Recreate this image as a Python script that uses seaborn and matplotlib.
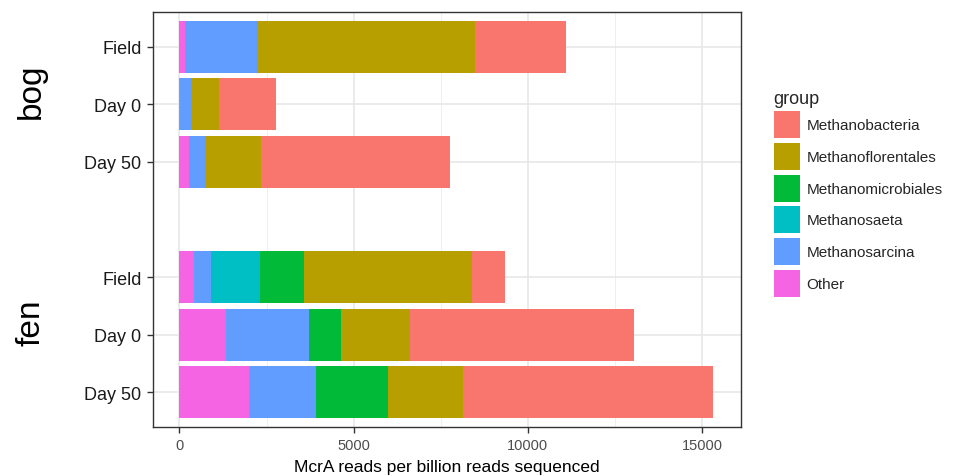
import matplotlib
matplotlib.use("Agg")
import matplotlib.pyplot as plt
import matplotlib.patches as mpatches
from matplotlib.transforms import blended_transform_factory
from matplotlib.ticker import MultipleLocator
import seaborn as sns
import pandas as pd

# data (McrA reads per billion reads sequenced)
sites = ["bog", "bog", "bog", "fen", "fen", "fen"]
samples = ["Field", "Day 0", "Day 50", "Field", "Day 0", "Day 50"]
other = [150, 30, 270, 430, 1340, 2010]
methanosarcina = [2090, 300, 460, 480, 2380, 1920]
methanosaeta = [0, 0, 0, 1390, 0, 0]
methanomicrobiales = [0, 0, 0, 1280, 910, 2060]
methanoflorentales = [6230, 800, 1620, 4810, 2000, 2160]
methanobacteria = [2630, 1640, 5420, 940, 6400, 7170]

groups = ["Methanobacteria", "Methanoflorentales", "Methanomicrobiales",
          "Methanosaeta", "Methanosarcina", "Other"]
colors = ["#F8766D", "#B79F00", "#00BA38", "#00BFC4", "#619CFF", "#F564E3"]

df = pd.DataFrame({
    "site": sites,
    "sample": samples,
    "Other": other,
    "Methanosarcina": methanosarcina,
    "Methanosaeta": methanosaeta,
    "Methanomicrobiales": methanomicrobiales,
    "Methanoflorentales": methanoflorentales,
    "Methanobacteria": methanobacteria,
})
df["key"] = df["site"] + " " + df["sample"]
order = list(df["key"][:3]) + ["gap"] + list(df["key"][3:])

# stacking left -> right is the reverse of legend order
stack = groups[::-1]
cum = df[stack].cumsum(axis=1)

sns.set_theme(style="white")
plt.rcParams["font.family"] = ["Liberation Sans", "DejaVu Sans"]

fig = plt.figure(figsize=(9.54, 4.77), dpi=100)
ax = fig.add_axes([0.160, 0.1027, 0.617, 0.870])

# draw widest cumulative first, then overlay shorter ones
for g in stack[::-1]:
    tmp = pd.DataFrame({"key": df["key"], "value": cum[g]})
    sns.barplot(data=tmp, x="value", y="key", order=order, orient="h",
                color=colors[groups.index(g)], saturation=1, width=0.9,
                errorbar=None, linewidth=0, ax=ax, zorder=3)

ax.set_xlim(-768, 16122)
ax.set_ylim(6.6, -0.6)
ax.xaxis.set_major_locator(MultipleLocator(5000))
ax.xaxis.set_minor_locator(MultipleLocator(2500))
ax.grid(which="major", axis="both", color="#e6e6e6", linewidth=1.1, zorder=0)
ax.grid(which="minor", axis="x", color="#efefef", linewidth=0.7, zorder=0)
ax.set_axisbelow(True)

ypos = [0, 1, 2, 4, 5, 6]
ax.set_yticks(ypos)
ax.set_yticklabels(samples, fontsize=13, color="#1a1a1a")
ax.tick_params(axis="y", which="major", length=4, width=1, color="#333333",
               left=True, pad=4)
ax.tick_params(axis="x", which="major", length=4, width=1, color="#333333",
               bottom=True, labelsize=10.5, labelcolor="#4d4d4d", pad=4)
ax.tick_params(axis="x", which="minor", length=0)
ax.set_xlabel("McrA reads per billion reads sequenced", fontsize=12.5,
              color="black", labelpad=5)
ax.set_ylabel("")

for s in ax.spines.values():
    s.set_color("#333333")
    s.set_linewidth(1)

# facet labels
trans = blended_transform_factory(fig.transFigure, ax.transData)
for label, y in [("bog", 0.75), ("fen", 4.78)]:
    ax.text(0.033, y, label, transform=trans, rotation=90, fontsize=24,
            ha="center", va="center", color="black")

handles = [mpatches.Patch(facecolor=c, edgecolor="none", label=g)
           for g, c in zip(groups, colors)]
leg = fig.legend(handles=handles, title="group", loc="upper left",
                 bbox_to_anchor=(0.803, 0.826), frameon=False,
                 fontsize=11, title_fontsize=13, borderpad=0,
                 handlelength=1.75, handleheight=2.35, labelspacing=0.3,
                 handletextpad=0.4, alignment="left")

fig.savefig("out.png", dpi=100)
plt.close(fig)
